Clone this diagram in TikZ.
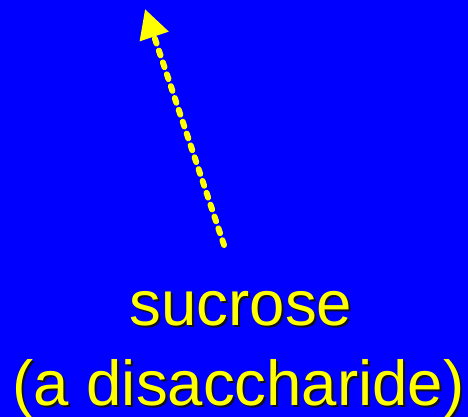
\documentclass[tikz,border=0pt]{standalone}
\usepackage{fontspec}
\setmainfont{Liberation Sans}
\definecolor{slideblue}{HTML}{0000FF}
\definecolor{slideyel}{HTML}{FFFF00}
\definecolor{shadowcol}{HTML}{101020}
\usetikzlibrary{arrows.meta}

\begin{document}
\begin{tikzpicture}[x=1pt,y=-1pt,
    bigtext/.style={font=\fontsize{63.5}{63.5}\selectfont,inner sep=0pt,anchor=base},
    pointer/.style={slideyel,line width=6pt,line cap=round,
        dash pattern=on 5pt off 7.5pt,
        -{Triangle[length=29pt,width=29pt,line join=miter]}}]
  % ---------- background -------------------------------------------
  \fill[slideblue] (0,0) rectangle (468,417);
  \useasboundingbox (0,0) rectangle (468,417);
  % ---------- labels (shadow first, then yellow) -------------------
  \node[bigtext,shadowcol] at (243,327) {sucrose};
  \node[bigtext,slideyel] (sucrose) at (241,325) {sucrose};
  \node[bigtext,shadowcol] at (240.5,407) {(a disaccharide)};
  \node[bigtext,slideyel] (disacch) at (238.5,405) {(a disaccharide)};
  % ---------- arrow ------------------------------------------------
  \coordinate (tail) at (224,245);
  \coordinate (tip) at (145,9);
  \draw[pointer] (tail) -- (tip);
\end{tikzpicture}
\end{document}
